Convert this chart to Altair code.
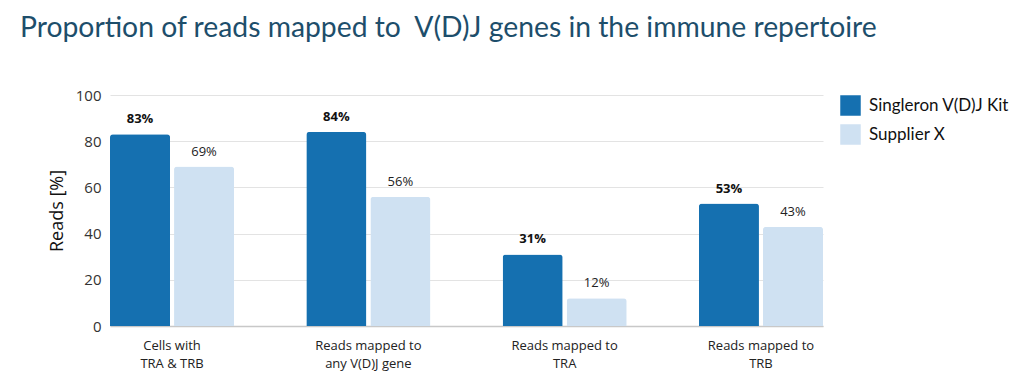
import altair as alt
import pandas as pd

categories = ["Cells with|TRA & TRB", "Reads mapped to|any V(D)J gene",
              "Reads mapped to|TRA", "Reads mapped to|TRB"]
series = ["Singleron V(D)J Kit", "Supplier X"]
singleron = [83, 84, 31, 53]
supplier = [69, 56, 12, 43]

rows = []
for c, a, b in zip(categories, singleron, supplier):
    rows.append({"cat": c, "series": series[0], "value": a, "label": f"{a}%", "bold": "bold"})
    rows.append({"cat": c, "series": series[1], "value": b, "label": f"{b}%", "bold": "normal"})
df = pd.DataFrame(rows)

bar_colors = ["#1570b0", "#cfe1f2"]

FONT = "Open Sans"

x = alt.X("cat:N", sort=categories, title=None,
          scale=alt.Scale(paddingInner=0.368, paddingOuter=0),
          axis=alt.Axis(labelExpr="split(datum.label, '|')", labelAngle=0,
                        labelFontSize=13, labelColor="#222222", labelFont=FONT,
                        ticks=False, domainColor="#c8c8c8", domainWidth=1.5,
                        labelPadding=13, labelLineHeight=18))
xoff = alt.XOffset("series:N", sort=series,
                   scale=alt.Scale(paddingInner=0.0625, paddingOuter=0))

bars = alt.Chart(df).mark_bar(cornerRadiusTopLeft=3, cornerRadiusTopRight=3).encode(
    x=x,
    xOffset=xoff,
    y=alt.Y("value:Q", title="Reads [%]",
            scale=alt.Scale(domain=[0, 100]),
            axis=alt.Axis(values=[0, 20, 40, 60, 80, 100], domain=False, ticks=False,
                          gridColor="#e3e3e3", gridWidth=1.2,
                          labelFontSize=15, labelColor="#333333", labelFont=FONT,
                          labelPadding=9,
                          titleFontSize=18, titleFont=FONT, titleFontWeight="normal",
                          titleColor="#111111", titlePadding=9)),
    color=alt.Color("series:N", sort=series, title=None,
                    scale=alt.Scale(domain=series, range=bar_colors),
                    legend=alt.Legend(symbolType="square", symbolSize=420,
                                      symbolStrokeWidth=0, labelFontSize=17,
                                      labelFont="Lato", labelColor="#111111",
                                      rowPadding=8, symbolOpacity=1,
                                      offset=17, padding=0, labelOffset=8,
                                      labelLimit=200)),
)

labels_bold = alt.Chart(df[df.bold == "bold"]).mark_text(
    dy=-15, fontSize=13, fontWeight="bold", font=FONT, color="#111111"
).encode(x=alt.X("cat:N", sort=categories), xOffset=alt.XOffset("series:N", sort=series),
         y="value:Q", text="label:N")
labels_norm = alt.Chart(df[df.bold == "normal"]).mark_text(
    dy=-15, fontSize=13, fontWeight="normal", font=FONT, color="#222222"
).encode(x=alt.X("cat:N", sort=categories), xOffset=alt.XOffset("series:N", sort=series),
         y="value:Q", text="label:N")

chart = alt.layer(bars, labels_bold, labels_norm).properties(
    width=713, height=231,
    autosize=alt.AutoSizeParams(type="none"),
    title=alt.Title("Proportion of reads mapped to\u00a0 V(D)J genes in the immune repertoire",
                    anchor="start", frame="group", font="Lato", fontSize=28.3,
                    fontWeight="normal", color="#1d4e6b", offset=45, dx=-90),
    padding={"left": 102, "top": 87, "right": 193, "bottom": 47},
).configure_view(stroke=None)

chart.save("out.html", embed_options={"renderer": "svg", "actions": False})
